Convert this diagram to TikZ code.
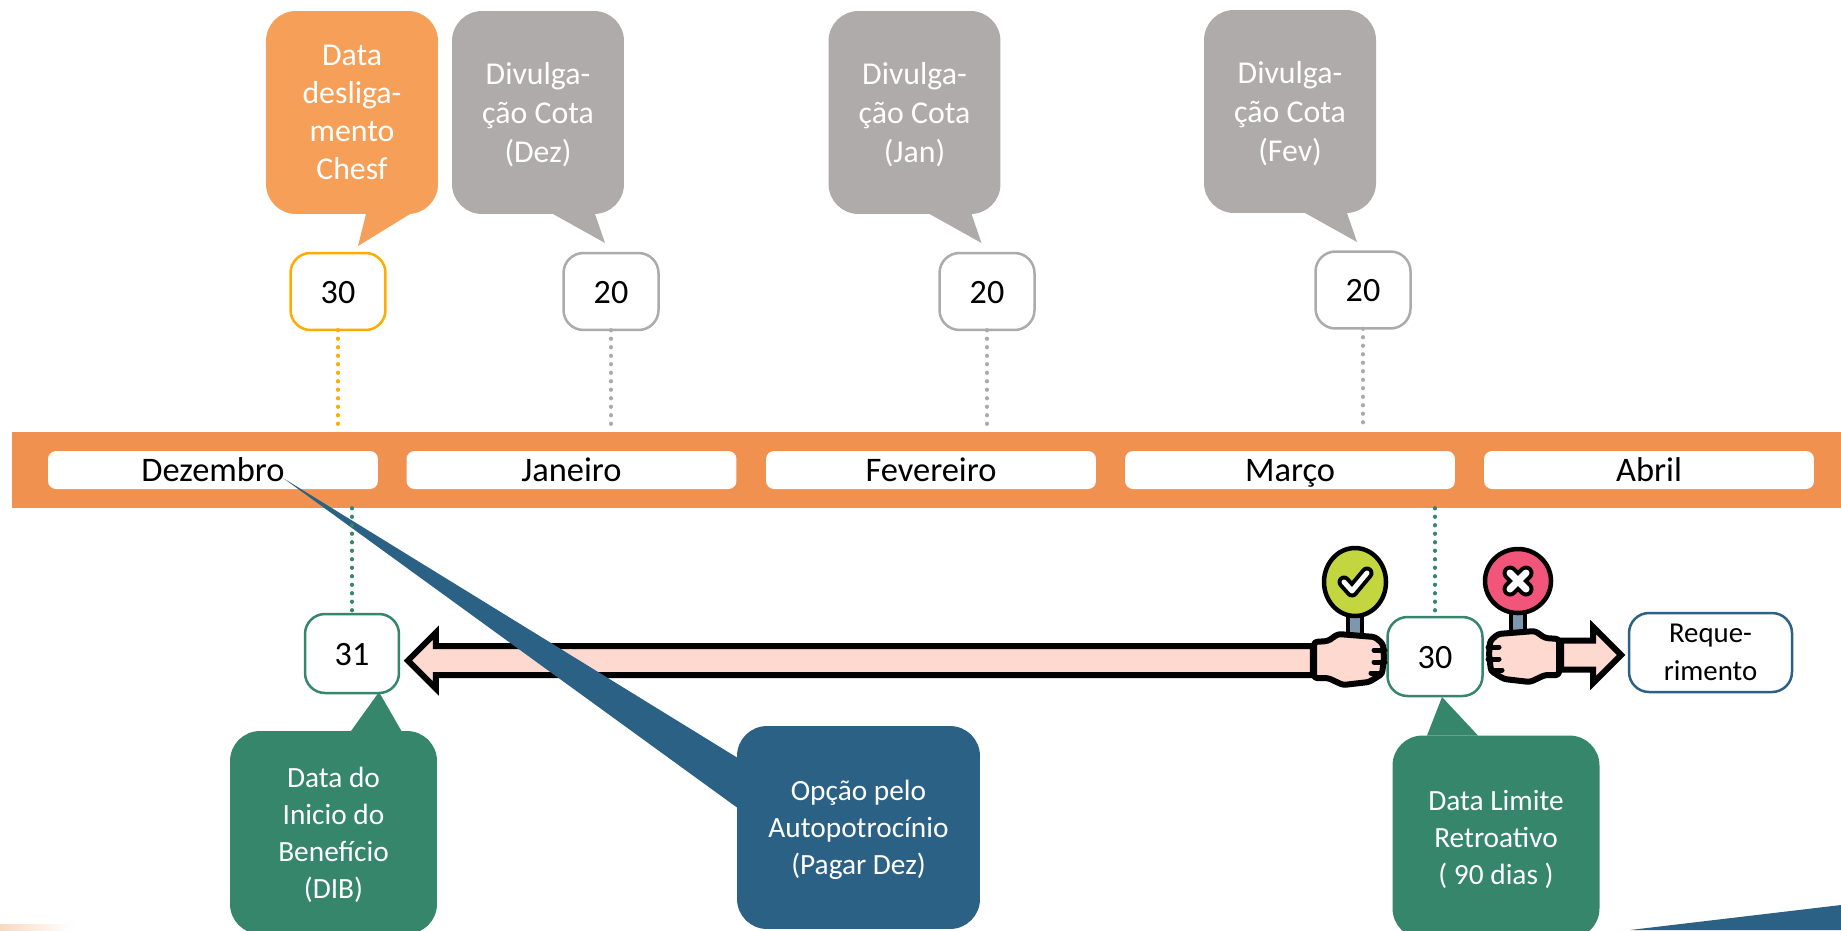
\documentclass[tikz,border=0pt]{standalone}
\usepackage{fontspec}
\setmainfont{Carlito}
\usetikzlibrary{calc,positioning,shapes.arrows}
\definecolor{bandorange}{HTML}{F0914F}
\definecolor{calloutorange}{HTML}{F59F58}
\definecolor{calloutgray}{HTML}{AEABAA}
\definecolor{linegray}{HTML}{ABABAB}
\definecolor{lineorange}{HTML}{FFAB00}
\definecolor{tealgreen}{HTML}{35866B}
\definecolor{navyblue}{HTML}{2C6186}
\definecolor{skin}{HTML}{FDD9CF}
\definecolor{handlegray}{HTML}{7C97AE}
\definecolor{discgreen}{HTML}{C3D63F}
\definecolor{discred}{HTML}{F2557A}
\tikzset{
    signhand/.pic={
        \draw[fill=handlegray,line width=.09cm] (-7,32) rectangle (7,58);
        \draw[fill=skin,line width=.12cm,line join=round,rounded corners=.06cm]
            (-41,60) -- (-27,59) -- (-17,52) -- (20,55) -- (28,62) -- (29,76) -- (27,92)
            -- (14,100) -- (-12,103) -- (-27,96) -- (-41,96) -- cycle;
        \draw[line width=.1cm,line cap=round] (19,68) -- (30,68);
        \draw[line width=.1cm,line cap=round] (19,80) -- (30,80);
        \draw[line width=.1cm,line cap=round] (16,91) -- (27,91);
    }
}
\begin{document}
\begin{tikzpicture}[x=.02cm,y=-.02cm,
    every node/.style = {font=\fontsize{19.4}{21.6}\selectfont, align=center, inner sep=0pt, outer sep=0pt},
    monthbox/.style = {fill=white, rounded corners=.16cm, minimum width=6.6cm, minimum height=.76cm, text height=.45cm, text depth=0pt, font=\fontsize{19.6}{21.6}\selectfont},
    daybox/.style = {draw, fill=white, rounded corners=.4cm, line width=.05cm, minimum width=1.9cm, minimum height=1.54cm, text height=.47cm, text depth=0pt},
    topcall/.style = {text=white, rounded corners=.6cm, minimum width=3.44cm, minimum height=4.06cm, font=\fontsize{18.1}{22}\selectfont},
    lowcall/.style = {text=white, rounded corners=.6cm, minimum width=4.14cm, minimum height=4.06cm, text depth=0pt, font=\fontsize{16.7}{21}\selectfont},
    dotline/.style = {line width=.075cm, line cap=round, dash pattern=on .01cm off .16cm},
    fatarrow/.style = {single arrow, draw, fill=skin, line width=.12cm, inner xsep=0pt, inner ysep=.23cm,
        single arrow head extend=.27cm, single arrow tip angle=90, single arrow head indent=0pt, anchor=tip},
    checkmark/.style = {line cap=round, line join=round}]
    \useasboundingbox (0,0) rectangle (1841,930);
    \clip (0,0) rectangle (1841,930);

    \shade[left color=bandorange!35, right color=white] (0,924) rectangle (72,930);
    \fill[navyblue] (1630,930) -- (1841,905) -- (1841,930) -- cycle;

    % month band
    \node[fill=bandorange, minimum width=36.58cm, minimum height=1.52cm] (band) at (926.5,470) {};
    \node[monthbox] (dez) at (213,470) {Dezembro};
    \node[monthbox] (jan) at (571.5,470) {Janeiro};
    \node[monthbox] (fev) at (931,470) {Fevereiro};
    \node[monthbox] (mar) at (1290,470) {Março};
    \node[monthbox] (abr) at (1649,470) {Abril};

    % days above the band
    \node[daybox, draw=lineorange] (d30) at (338,291.5) {30};
    \node[daybox, draw=linegray] (d20a) at (611,291.5) {20};
    \node[daybox, draw=linegray] (d20b) at (987,291.5) {20};
    \node[daybox, draw=linegray] (d20c) at (1363,290) {20};
    \draw[dotline, lineorange, shorten >=.08cm] (d30) -- (d30 |- band.north);
    \draw[dotline, linegray, shorten >=.08cm] (d20a) -- (d20a |- band.north);
    \draw[dotline, linegray, shorten >=.08cm] (d20b) -- (d20b |- band.north);
    \draw[dotline, linegray, shorten >=.08cm] (d20c) -- (d20c |- band.north);

    % callouts above
    \coordinate (tip30) at (358,246);
    \coordinate (tipa) at (605,243);
    \coordinate (tipb) at (981.5,243);
    \coordinate (tipc) at (1357,242);
    \node[topcall, fill=calloutorange, font=\fontsize{18.1}{21.6}\selectfont] (deslig) at (352,112.5) {Data\\desliga-\\mento\\Chesf};
    \node[topcall, fill=calloutgray, text depth=0pt] (cotaa) at (538,112.5) {Divulga-\\ção Cota\\(Dez)};
    \node[topcall, fill=calloutgray, text depth=0pt] (cotab) at (914.5,112.5) {Divulga-\\ção Cota\\(Jan)};
    \node[topcall, fill=calloutgray, text depth=0pt] (cotac) at (1290,111.5) {Divulga-\\ção Cota\\(Fev)};
    \fill[calloutorange] ([xshift=.28cm]deslig.south) -- (tip30) -- ([xshift=1.16cm]deslig.south) -- cycle;
    \fill[calloutgray] ([xshift=.3cm]cotaa.south) -- (tipa) -- ([xshift=1.14cm]cotaa.south) -- cycle;
    \fill[calloutgray] ([xshift=.3cm]cotab.south) -- (tipb) -- ([xshift=1.14cm]cotab.south) -- cycle;
    \fill[calloutgray] ([xshift=.3cm]cotac.south) -- (tipc) -- ([xshift=1.14cm]cotac.south) -- cycle;

    % days below the band
    \node[daybox, draw=tealgreen, minimum width=1.88cm, minimum height=1.58cm] (d31) at (352,653.5) {31};
    \node[daybox, draw=tealgreen, minimum height=1.58cm] (d30b) at (1435,656.5) {30};
    \node[draw=navyblue, fill=white, rounded corners=.4cm, line width=.05cm, minimum width=3.26cm, minimum height=1.58cm,
        font=\fontsize{16.4}{21.6}\selectfont] (req) at (1710.5,652.5) {Reque-\\rimento};

    % arrows and hands
    \node[fatarrow, shape border rotate=180, minimum height=18.1cm] (backarrow) at ([xshift=.18cm,yshift=-.14cm]d31.east) {};
    \node[fatarrow, minimum height=1.2cm] (fwdarrow) at ([xshift=-.16cm,yshift=-.05cm]req.west) {};
    \pic at (1355,582) {signhand};
    \pic[xscale=-1] at (1518,579) {signhand};
    \draw[fill=discgreen, line width=.09cm] (1355,582) ellipse [x radius=31, y radius=34];
    \draw[fill=discred, line width=.09cm] (1518,581) ellipse [x radius=33, y radius=32];
    \draw[checkmark, line width=.26cm] (1344,582) -- (1352,591) -- (1367,573);
    \draw[checkmark, line width=.1cm, white] (1344,582) -- (1352,591) -- (1367,573);
    \draw[checkmark, line width=.3cm] (1510,573) -- (1526,589) (1526,573) -- (1510,589);
    \draw[checkmark, line width=.14cm, white] (1510,573) -- (1526,589) (1526,573) -- (1510,589);

    % callouts below
    \coordinate (tipopt) at (283,478);
    \coordinate (tipdib) at (379,692);
    \coordinate (tiplim) at (1442,697);
    \node[lowcall, fill=navyblue, minimum width=4.86cm] (opcao) at (858.5,827.5) {Opção pelo\\Autopotrocínio\\(Pagar Dez)};
    \fill[navyblue] ([yshift=1.4cm]opcao.west) -- (tipopt) -- ([yshift=.4cm]opcao.west) -- cycle;
    \node[lowcall, fill=tealgreen] (dib) at (333.5,832.5) {Data do\\Inicio do\\Benefício\\(DIB)};
    \fill[tealgreen] ([xshift=.35cm]dib.north) -- (tipdib) -- ([xshift=1.36cm]dib.north) -- cycle;
    \node[lowcall, fill=tealgreen] (limite) at (1496,837) {Data Limite\\Retroativo\\( 90 dias )};
    \fill[tealgreen] ([xshift=-1.38cm]limite.north) -- (tiplim) -- ([xshift=-.36cm]limite.north) -- cycle;
    \draw[dotline, tealgreen] (d31 |- band.south) -- (d31);
    \draw[dotline, tealgreen] (d30b |- band.south) -- (d30b);
\end{tikzpicture}
\end{document}
